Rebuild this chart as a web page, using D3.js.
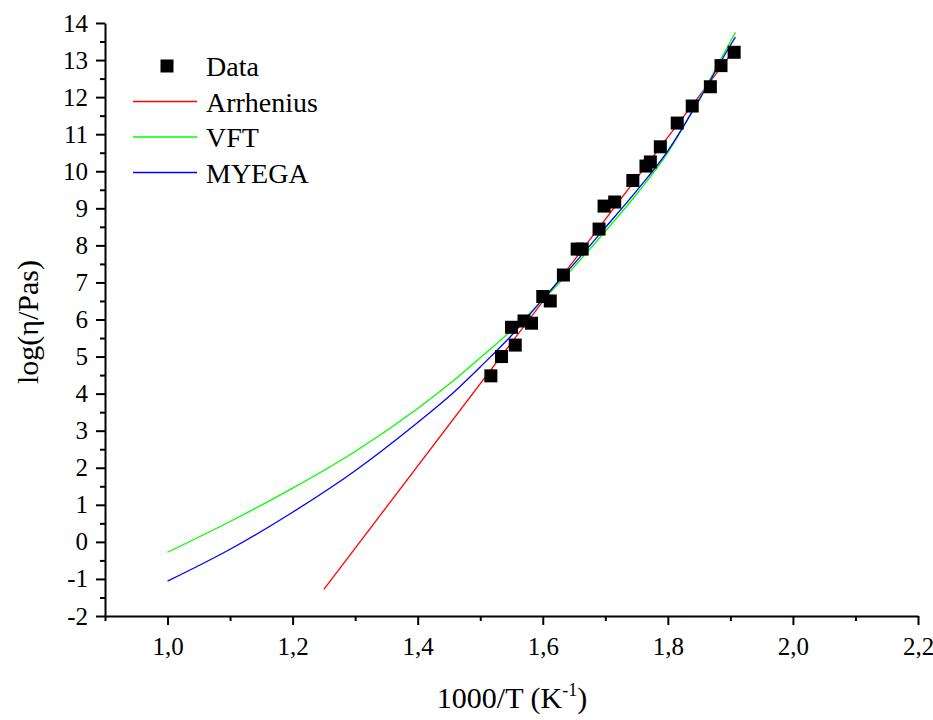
<!DOCTYPE html>
<html>
<head>
<meta charset="utf-8">
<script src="https://cdn.jsdelivr.net/npm/d3@7"></script>
<style>
  body { margin: 0; background: #fff; }
  svg text { font-family: "Liberation Serif", "Times New Roman", serif; fill: #000; }
</style>
</head>
<body>
<div id="chart"></div>
<script>
// measured points
var dataX = [1.517, 1.534, 1.556, 1.550, 1.570, 1.582, 1.600, 1.612, 1.633, 1.655, 1.663, 1.690,
             1.698, 1.715, 1.744, 1.765, 1.772, 1.788, 1.815, 1.839, 1.868, 1.885, 1.906];
var dataY = [4.48, 5.00, 5.31, 5.79, 5.96, 5.90, 6.62, 6.50, 7.20, 7.90, 7.90, 8.44,
             9.06, 9.17, 9.75, 10.14, 10.25, 10.66, 11.30, 11.76, 12.28, 12.85, 13.21];

// fit curves
var arrhX = [1.25, 1.905];
var arrhY = [-1.28, 13.25];

var vftX = [1.00, 1.10, 1.20, 1.30, 1.40, 1.45, 1.50, 1.55, 1.60, 1.65, 1.70, 1.75, 1.80, 1.85, 1.90, 1.908];
var vftY = [-0.28, 0.55, 1.45, 2.44, 3.60, 4.25, 4.97, 5.70, 6.52, 7.42, 8.38, 9.38, 10.50, 11.95, 13.50, 13.75];

var myegaX = [1.00, 1.10, 1.20, 1.30, 1.40, 1.45, 1.50, 1.55, 1.60, 1.65, 1.70, 1.75, 1.80, 1.85, 1.90, 1.908];
var myegaY = [-1.06, -0.20, 0.80, 1.92, 3.22, 3.92, 4.72, 5.57, 6.55, 7.50, 8.48, 9.47, 10.55, 11.92, 13.40, 13.62];

var xMajor = [1.0, 1.2, 1.4, 1.6, 1.8, 2.0, 2.2];
var xMinor = [0.9, 1.1, 1.3, 1.5, 1.7, 1.9, 2.1];
var yMajor = d3.range(-2, 15, 1);
var yMinor = d3.range(-1.5, 14, 1);

var legendNames = ["Data", "Arrhenius", "VFT", "MYEGA"];
var legendColors = ["#000000", "#ff0000", "#00ff00", "#0000ff"];

var width = 933, height = 720;
var serif = "'Liberation Serif', 'Times New Roman', serif";

var svg = d3.select("#chart").append("svg")
    .attr("width", width)
    .attr("height", height);

var x = d3.scaleLinear().domain([0.9, 2.2]).range([105, 918]);
var y = d3.scaleLinear().domain([-2, 14]).range([616, 23]);

var comma = function(d) { return d3.format(".1f")(d).replace(".", ","); };
var plain = function(d) { return String(d); };   // hyphen minus like the original

// x axis
var gx = svg.append("g").attr("transform", "translate(0,616)");
gx.call(d3.axisBottom(x).tickValues(xMajor).tickSize(9).tickSizeOuter(0).tickPadding(12).tickFormat(comma));
var gxm = svg.append("g").attr("transform", "translate(0,616)");
gxm.call(d3.axisBottom(x).tickValues(xMinor).tickSize(5).tickSizeOuter(0).tickFormat(""));
gxm.select(".domain").remove();

// y axis
var gy = svg.append("g").attr("transform", "translate(105,0)");
gy.call(d3.axisLeft(y).tickValues(yMajor).tickSize(9).tickSizeOuter(0).tickPadding(8).tickFormat(plain));
var gym = svg.append("g").attr("transform", "translate(105,0)");
gym.call(d3.axisLeft(y).tickValues(yMinor).tickSize(5).tickSizeOuter(0).tickFormat(""));
gym.select(".domain").remove();

[gx, gxm, gy, gym].forEach(function(g) {
    g.attr("font-family", serif).attr("font-size", 25);
});
svg.selectAll(".domain, .tick line").attr("stroke", "#000").attr("stroke-width", 2);
svg.selectAll(".tick text")
    .style("font-family", serif)
    .style("font-size", "25px")
    .attr("fill", "#000");

// axis titles
var xt = svg.append("text")
    .attr("x", 512).attr("y", 708)
    .attr("text-anchor", "middle")
    .attr("font-size", 30)
    .text("1000/T (K");
xt.append("tspan").attr("font-size", 18).attr("dy", -12).text("-1");
xt.append("tspan").attr("dy", 12).text(")");

svg.append("text")
    .attr("transform", "translate(38,322) rotate(-90)")
    .attr("text-anchor", "middle")
    .attr("font-size", 30)
    .text("log(η/Pas)");

// curves
var line = d3.line()
    .x(function(d) { return x(d[0]); })
    .y(function(d) { return y(d[1]); })
    .curve(d3.curveMonotoneX);

var curves = [
    { xs: arrhX, ys: arrhY, color: legendColors[1] },
    { xs: vftX, ys: vftY, color: legendColors[2] },
    { xs: myegaX, ys: myegaY, color: legendColors[3] }
];

curves.forEach(function(c) {
    svg.append("path")
        .datum(c.xs.map(function(v, i) { return [v, c.ys[i]]; }))
        .attr("d", line)
        .attr("fill", "none")
        .attr("stroke", c.color)
        .attr("stroke-width", 1.3);
});

// data squares
var sq = 13;
svg.selectAll(".pt")
    .data(dataX.map(function(v, i) { return [v, dataY[i]]; }))
    .enter()
    .append("rect")
    .attr("class", "pt")
    .attr("x", function(d) { return x(d[0]) - sq / 2; })
    .attr("y", function(d) { return y(d[1]) - sq / 2; })
    .attr("width", sq)
    .attr("height", sq)
    .attr("fill", "#000");

// legend
var legend = svg.append("g").attr("transform", "translate(133,66)");
legendNames.forEach(function(name, i) {
    var row = legend.append("g").attr("transform", "translate(0," + (i * 35.5) + ")");
    if (i === 0) {
        row.append("rect").attr("x", 34 - sq / 2).attr("y", -sq / 2)
            .attr("width", sq).attr("height", sq).attr("fill", "#000");
    } else {
        row.append("line").attr("x1", 0).attr("x2", 64).attr("y1", 0).attr("y2", 0)
            .attr("stroke", legendColors[i]).attr("stroke-width", 1.3);
    }
    row.append("text")
        .attr("x", 73).attr("y", 10)
        .attr("font-size", 28)
        .text(name);
});
</script>
</body>
</html>
